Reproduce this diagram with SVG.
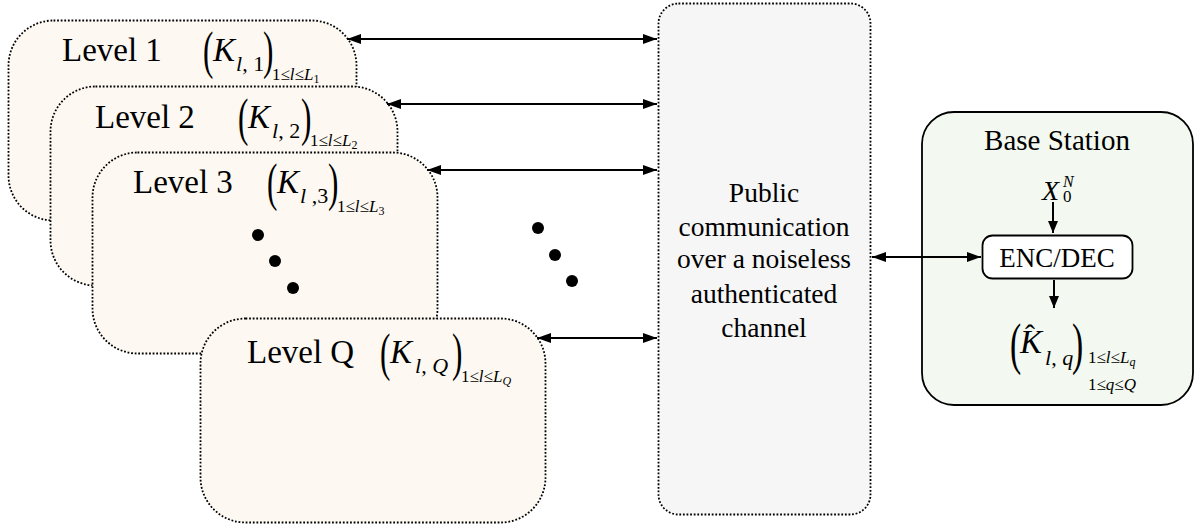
<svg xmlns="http://www.w3.org/2000/svg" width="1197" height="527" viewBox="0 0 1197 527">
<defs>
<marker id="ah" viewBox="0 0 14 10" refX="14" refY="5" markerWidth="14" markerHeight="10" orient="auto-start-reverse" markerUnits="userSpaceOnUse"><path d="M0,0 L14,5 L0,10 z" fill="#000"/></marker>
<marker id="ahs" viewBox="0 0 12 10" refX="12" refY="5" markerWidth="12" markerHeight="10" orient="auto-start-reverse" markerUnits="userSpaceOnUse"><path d="M0,0 L12,5 L0,10 z" fill="#000"/></marker>
</defs>
<style>
.box{stroke:#000;stroke-width:1.8;stroke-dasharray:1.8 1.8}
.lv{fill:#fdf9f2}
.it{font-style:italic}
.lbl{font-size:33px}
.k{font-size:33px;font-style:italic}
.s1{font-size:22px}
.s2{font-size:17px}
.s3{font-size:12px}
.par{font-size:52px}
.conn line{stroke:#000;stroke-width:2;marker-start:url(#ah);marker-end:url(#ah)}
.dot{fill:#000}
</style>
<rect width="1197" height="527" fill="#fff"/>
<g font-family="Liberation Serif, Tinos, Times New Roman, DejaVu Serif, serif" fill="#000">

<g id="level1">
<rect class="box lv" x="8.5" y="20.5" width="348" height="200" rx="45"/>
<text class="lbl" x="62" y="61">Level 1</text>
<text class="par" transform="translate(203,68) scale(0.6,1)">(</text>
<text class="k" x="213" y="61">K</text>
<text class="s1" x="236" y="71"><tspan class="it">l</tspan>, 1</text>
<text class="par" transform="translate(263,68) scale(0.6,1)">)</text>
<text class="s2" x="272" y="80">1≤<tspan class="it">l</tspan>≤<tspan class="it">L</tspan><tspan class="s3" dy="3">1</tspan></text>
</g>

<g id="level2">
<rect class="box lv" x="50.5" y="86.5" width="347" height="199" rx="45"/>
<text class="lbl" x="95" y="128">Level 2</text>
<text class="par" transform="translate(238,135) scale(0.6,1)">(</text>
<text class="k" x="248" y="128">K</text>
<text class="s1" x="272" y="138"><tspan class="it">l</tspan>, 2</text>
<text class="par" transform="translate(301,135) scale(0.6,1)">)</text>
<text class="s2" x="310" y="146">1≤<tspan class="it">l</tspan>≤<tspan class="it">L</tspan><tspan class="s3" dy="3">2</tspan></text>
</g>

<g id="level3">
<rect class="box lv" x="92.5" y="152.5" width="345" height="201" rx="45"/>
<text class="lbl" x="133" y="193">Level 3</text>
<text class="par" transform="translate(267,200) scale(0.6,1)">(</text>
<text class="k" x="277" y="193">K</text>
<text class="s1" x="300" y="203"><tspan class="it">l</tspan> ,3</text>
<text class="par" transform="translate(328,200) scale(0.6,1)">)</text>
<text class="s2" x="337" y="212">1≤<tspan class="it">l</tspan>≤<tspan class="it">L</tspan><tspan class="s3" dy="3">3</tspan></text>
<circle class="dot" cx="258" cy="235" r="6"/>
<circle class="dot" cx="275" cy="261" r="6"/>
<circle class="dot" cx="293" cy="288" r="6"/>
</g>

<g id="levelQ">
<rect class="box lv" x="200.5" y="318.5" width="345" height="204" rx="45"/>
<text class="lbl" x="247" y="363">Level Q</text>
<text class="par" transform="translate(380,370) scale(0.6,1)">(</text>
<text class="k" x="390" y="363">K</text>
<text class="s1" x="415" y="373"><tspan class="it">l</tspan>, <tspan class="it">Q</tspan></text>
<text class="par" transform="translate(452,370) scale(0.6,1)">)</text>
<text class="s2" x="461" y="382">1≤<tspan class="it">l</tspan>≤<tspan class="it">L</tspan><tspan class="s3 it" dy="3">Q</tspan></text>
</g>

<g id="dots">
<circle class="dot" cx="538" cy="228" r="6"/>
<circle class="dot" cx="555" cy="255" r="6"/>
<circle class="dot" cx="572" cy="281" r="6"/>
</g>

<g id="channel">
<rect class="box" x="658.5" y="3.5" width="212" height="511" rx="20" fill="#f6f6f6"/>
<g font-size="27.5" text-anchor="middle">
<text x="764" y="202">Public</text>
<text x="764" y="236">communication</text>
<text x="764" y="268">over a noiseless</text>
<text x="764" y="303">authenticated</text>
<text x="764" y="337">channel</text>
</g>
</g>

<g id="basestation">
<rect x="922" y="112" width="271" height="293" rx="32" fill="#f3f9f0" stroke="#000" stroke-width="1.8"/>
<text x="1057" y="150" font-size="29" text-anchor="middle">Base Station</text>
<text x="1042" y="200" font-size="28" font-style="italic">X<tspan x="1063" y="187" font-size="16">N</tspan><tspan x="1063" y="202" font-size="17" font-style="normal">0</tspan></text>
<g id="encdec">
<rect x="982.5" y="235.5" width="150" height="43" rx="10" fill="#fff" stroke="#000" stroke-width="1.8"/>
<text x="1057" y="267" font-size="27" text-anchor="middle">ENC/DEC</text>
</g>
<text class="par" transform="translate(1010,363) scale(0.6,1)" style="font-size:56px">(</text>
<text class="k" x="1020" y="353">K<tspan x="1025" y="345" font-size="30" font-style="normal">ˆ</tspan></text>
<text class="s1" x="1045" y="365"><tspan class="it">l</tspan>, <tspan class="it">q</tspan></text>
<text class="par" transform="translate(1072,363) scale(0.6,1)" style="font-size:56px">)</text>
<text class="s2" x="1088" y="363">1≤<tspan class="it">l</tspan>≤<tspan class="it">L</tspan><tspan class="s3 it" dy="3">q</tspan></text>
<text class="s2" x="1088" y="390">1≤<tspan class="it">q</tspan>≤<tspan class="it">Q</tspan></text>
</g>
</g>

<g id="connectors" class="conn">
<line x1="347" y1="39" x2="657" y2="39"/>
<line x1="387" y1="104" x2="657" y2="104"/>
<line x1="427" y1="170" x2="657" y2="170"/>
<line x1="537" y1="338" x2="657" y2="338"/>
<line x1="872" y1="257" x2="981" y2="257"/>
<line x1="1053" y1="202" x2="1053" y2="233" style="marker-start:none;marker-end:url(#ahs)"/>
<line x1="1054" y1="280" x2="1054" y2="308" style="marker-start:none;marker-end:url(#ahs)"/>
</g>
</svg>
